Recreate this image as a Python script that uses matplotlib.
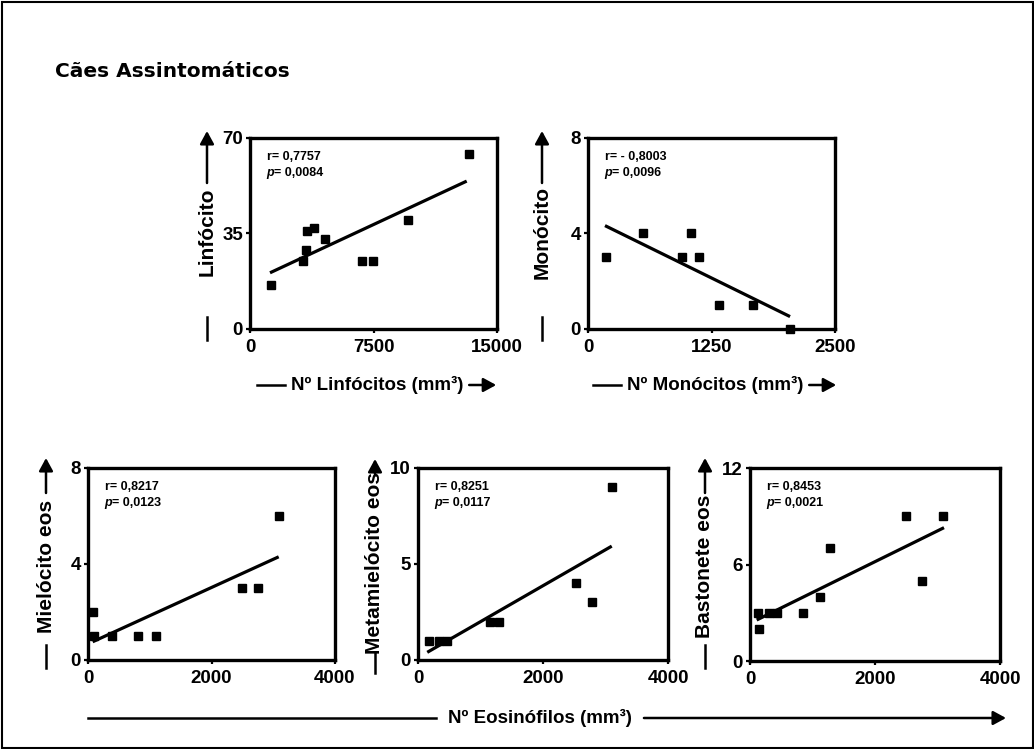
import matplotlib
matplotlib.use("Agg")
import matplotlib.pyplot as plt
from matplotlib import font_manager
from matplotlib.lines import Line2D
from matplotlib.patches import FancyArrowPatch, Rectangle

# ---------------- data ----------------
lin_x = [1275, 3220, 3400, 3440, 3890, 4550, 6800, 7470, 9600, 13280]
lin_y = [16, 25, 29, 36, 37, 33, 25, 25, 40, 64]
lin_fit_x = [1215, 13160]
lin_fit_y = [20.6, 54.2]

mono_x = [179, 557, 955, 1043, 1120, 1330, 1675, 2045]
mono_y = [3, 4, 3, 4, 3, 1, 1, 0]
mono_fit_x = [172, 2045]
mono_fit_y = [4.33, 0.52]

mielo_x = [86, 102, 394, 815, 1096, 2494, 2753, 3088]
mielo_y = [2, 1, 1, 1, 1, 3, 3, 6]
mielo_fit_x = [76, 3088]
mielo_fit_y = [0.76, 4.3]

meta_x = [175, 333, 460, 1159, 1297, 2529, 2783, 3111]
meta_y = [1, 1, 1, 2, 2, 4, 3, 9]
meta_fit_x = [148, 3100]
meta_fit_y = [0.4, 5.93]

bast_x = [123, 144, 304, 432, 848, 1125, 1275, 2500, 2757, 3088]
bast_y = [3, 2, 3, 3, 3, 4, 7, 9, 5, 9]
bast_fit_x = [107, 3104]
bast_fit_y = [2.55, 8.29]

stats = [("0,7757", "0,0084"), ("- 0,8003", "0,0096"), ("0,8217", "0,0123"),
         ("0,8251", "0,0117"), ("0,8453", "0,0021")]
xticks = [[0, 7500, 15000], [0, 1250, 2500], [0, 2000, 4000], [0, 2000, 4000], [0, 2000, 4000]]
yticks = [[0, 35, 70], [0, 4, 8], [0, 4, 8], [0, 5, 10], [0, 6, 12]]
ylabels = ["Linfócito", "Monócito", "Mielócito eos", "Metamielócito eos", "Bastonete eos"]
title = "Cães Assintomáticos"
xlabel_lin = "Nº Linfócitos (mm³)"
xlabel_mono = "Nº Monócitos (mm³)"
xlabel_eos = "Nº Eosinófilos (mm³)"

# ---------------- fonts ----------------
def has_font(name):
    try:
        font_manager.findfont(font_manager.FontProperties(family=name), fallback_to_default=False)
        return True
    except Exception:
        return False

SANS = "Liberation Sans"
NARROW = "Liberation Sans Narrow" if has_font("Liberation Sans Narrow") else SANS

W, H = 1034, 749
fig = plt.figure(figsize=(W / 100, H / 100), dpi=100)
renderer = fig.canvas.get_renderer()

def fx(x):
    return x / W

def fy(y):
    return 1 - y / H

def add_axes(l, r, t, b):
    return fig.add_axes([fx(l), fy(b), (r - l) / W, (b - t) / H])

boxes = [(250, 497, 138, 329), (588, 835, 138, 329),
         (88, 335, 468, 660), (418, 668, 468, 660), (750, 1000, 468, 661)]
series = [(lin_x, lin_y, lin_fit_x, lin_fit_y), (mono_x, mono_y, mono_fit_x, mono_fit_y),
          (mielo_x, mielo_y, mielo_fit_x, mielo_fit_y), (meta_x, meta_y, meta_fit_x, meta_fit_y),
          (bast_x, bast_y, bast_fit_x, bast_fit_y)]

for i, (box, (sx, sy, fxs, fys)) in enumerate(zip(boxes, series)):
    ax = add_axes(*box)
    ax.plot(sx, sy, linestyle="none", marker="s", markersize=6.3, color="black", clip_on=False, zorder=3)
    ax.plot(fxs, fys, color="black", linewidth=2.3, solid_capstyle="butt", zorder=2)
    ax.set_xlim(xticks[i][0], xticks[i][-1])
    ax.set_ylim(yticks[i][0], yticks[i][-1])
    ax.set_xticks(xticks[i])
    ax.set_yticks(yticks[i])
    ax.set_xticklabels([str(v) for v in xticks[i]])
    ax.set_yticklabels([str(v) for v in yticks[i]])
    for sp in ax.spines.values():
        sp.set_linewidth(2.4)
    ax.tick_params(width=1.6, length=3, direction="out")
    ax.tick_params(axis="x", pad=4)
    ax.tick_params(axis="y", pad=2)
    for lab in ax.get_xticklabels() + ax.get_yticklabels():
        lab.set_fontfamily(NARROW)
        lab.set_fontweight("bold")
        lab.set_fontsize(13.5)
    r, p = stats[i]
    ax.annotate("r= " + r, xy=(0, 1), xycoords="axes fraction", xytext=(12, -14),
                textcoords="offset points", fontsize=9, fontweight="bold", family=SANS,
                ha="left", va="center")
    ax.annotate("p", xy=(0, 1), xycoords="axes fraction", xytext=(12, -25.5),
                textcoords="offset points", fontsize=9, fontweight="bold", style="italic",
                family=SANS, ha="left", va="center")
    ax.annotate("= " + p, xy=(0, 1), xycoords="axes fraction", xytext=(17.5, -25.5),
                textcoords="offset points", fontsize=9, fontweight="bold", family=SANS,
                ha="left", va="center")

LW = 1.8

def vline(x, y0, y1):
    fig.add_artist(Line2D([fx(x), fx(x)], [fy(y0), fy(y1)], transform=fig.transFigure,
                          color="black", linewidth=LW))

def hline(x0, x1, y):
    fig.add_artist(Line2D([fx(x0), fx(x1)], [fy(y), fy(y)], transform=fig.transFigure,
                          color="black", linewidth=LW))

def arrow(x0, y0, x1, y1):
    fig.add_artist(FancyArrowPatch((fx(x0), fy(y0)), (fx(x1), fy(y1)), transform=fig.transFigure,
                                   arrowstyle="-|>,head_length=0.55,head_width=0.3",
                                   mutation_scale=14, color="black", linewidth=LW,
                                   shrinkA=0, shrinkB=0))

# vertical labels: (text, x, text centre y, lower line span, upper arrow span)
vlabs = [(ylabels[0], 207, 232, (317, 340), (183, 131)),
         (ylabels[1], 542, 232, (317, 340), (183, 131)),
         (ylabels[2], 46, 566, (645, 668), (493, 458)),
         (ylabels[3], 375, 563, (652, 673), (474, 459)),
         (ylabels[4], 705, 566, (645, 668), (493, 458))]
for txt, x, yc, (l0, l1), (a0, a1) in vlabs:
    fig.text(fx(x), fy(yc), txt, rotation=90, ha="center", va="center",
             fontsize=15, fontweight="bold", family=SANS)
    vline(x, l0, l1)
    arrow(x, a0, x, a1)

def hlabel(txt, xc, y, left_len=None, right_len=None, left_end=None, right_end=None, gap=6):
    t = fig.text(fx(xc), fy(y), txt, ha="center", va="center", fontsize=13.5,
                 fontweight="bold", family=SANS)
    bb = t.get_window_extent(renderer=renderer)
    l1 = bb.x0 - gap
    l0 = left_end if left_end is not None else l1 - left_len
    a0 = bb.x1 + gap
    a1 = right_end if right_end is not None else a0 + right_len
    hline(l0, l1, y)
    arrow(a0, y, a1, y)

hlabel(xlabel_lin, 377, 385, left_len=28, right_len=27)
hlabel(xlabel_mono, 715, 385, left_len=28, right_len=27)
hlabel(xlabel_eos, 540, 718, left_end=88, right_end=1006, gap=12)

# title
fig.text(fx(55), fy(77), title, ha="left", va="baseline", fontsize=14.5,
         fontweight="bold", family="DejaVu Sans")

# outer frame
fig.add_artist(Rectangle((fx(1.5), fy(747.5)), (W - 3) / W, (H - 3) / H, transform=fig.transFigure,
                         fill=False, edgecolor="black", linewidth=1.5))

fig.savefig("out.png", dpi=100)
